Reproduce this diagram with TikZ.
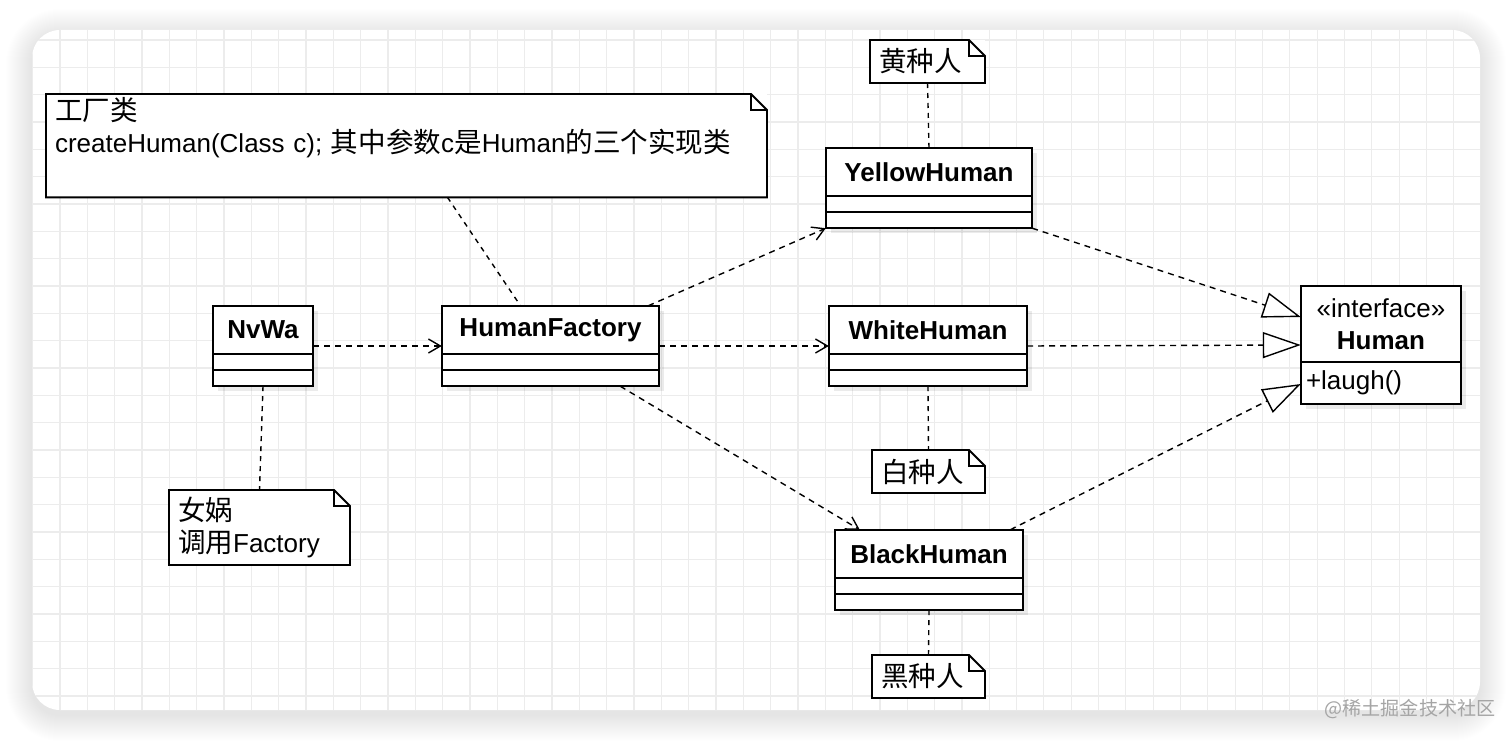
\documentclass[tikz,border=0pt]{standalone}
\usepackage{fontspec}
\setmainfont{Liberation Sans}
\newfontfamily\cjk[Scale=1.06]{Noto Sans CJK SC}
\usepackage{tikz}
\usetikzlibrary{arrows.meta,positioning,fit,shadows}
\usepackage{xcolor}
\definecolor{gridgray}{RGB}{236,236,236}
\definecolor{markgray}{RGB}{165,165,165}
\newcommand{\textsz}{\fontsize{26pt}{32pt}\selectfont}

% class box: name compartment plus two empty ones
\newcommand{\umlclass}[4]{%
  \node[clshead, minimum width=#4, anchor=north west] (#1 head) at #3 {#2};
  \node[clsslot, minimum width=#4, below=0pt of #1 head] (#1 a) {};
  \node[clsslot, minimum width=#4, below=0pt of #1 a] (#1 b) {};
  \node[fit=(#1 head)(#1 b), inner sep=0pt] (#1) {};
}
% note outline with folded corner
\newcommand{\umlnote}[1]{%
  \draw[notebox] (#1.south west) -- (#1.north west) -- ([xshift=-16pt]#1.north east)
    -- ([yshift=-16pt]#1.north east) -- (#1.south east) -- cycle;
  \draw[notebox] ([xshift=-16pt]#1.north east) |- ([yshift=-16pt]#1.north east);
}

\begin{document}
\begin{tikzpicture}[x=1pt, y=-1pt, font=\textsz,
      >={Straight Barb[length=12pt, width=14pt]},
      clshead/.style={draw, fill=white, line width=1.8pt, outer sep=0pt,
                      minimum height=48pt, align=center,
                      font=\textsz\bfseries,
                      drop shadow={shadow xshift=5pt, shadow yshift=-5pt,
                                   opacity=0.08, fill=black}},
      clsslot/.style={draw, fill=white, line width=1.8pt, outer sep=0pt,
                      minimum height=16pt, inner sep=0pt,
                      drop shadow={shadow xshift=5pt, shadow yshift=-5pt,
                                   opacity=0.08, fill=black}},
      note/.style={fill=white, outer sep=0pt, inner xsep=9pt, align=left},
      notebox/.style={line width=1.8pt, line join=miter},
      dep/.style={->, line width=1.4pt, dash pattern=on 6pt off 5pt},
      real/.style={-{Triangle[open, length=38pt, width=26pt, fill=white]},
                   line width=1.4pt, dash pattern=on 6pt off 5pt},
      link/.style={line width=1.4pt, dash pattern=on 5pt off 5pt}
    ]
    \useasboundingbox (0,0) rectangle (1512,741);

    % card with soft shadow and grid
    \fill[white] (0,0) rectangle (1512,741);
    \foreach \s in {1,...,26}{
      \pgfmathsetmacro\rr{28+\s}
      \fill[black, opacity=0.0045, rounded corners=\rr pt]
        (32-\s,35-\s) rectangle (1480+\s,715+\s);
    }
    \fill[white, rounded corners=28pt] (32,30) rectangle (1480,710);
    \begin{scope}
      \clip[rounded corners=28pt] (32,30) rectangle (1480,710);
      \foreach \i in {-1,...,52}
        \draw[gridgray, line width=1.2pt] (60+27.33*\i,30) -- (60+27.33*\i,710);
      \foreach \j in {-1,...,25}
        \draw[gridgray, line width=1.2pt] (32,40+27.33*\j) -- (1480,40+27.33*\j);
    \end{scope}

    % notes
    \node[note, anchor=north west, text width=703pt, minimum height=102pt]
      (factorynote) at (46,94)
      {{\cjk 工厂类}\\createHuman(Class c); {\cjk 其中参数}c{\cjk 是}Human{\cjk 的三个实现类}\\\strut};
    \umlnote{factorynote}
    \node[note, anchor=north west, text width=97pt, minimum height=43pt]
      (yellownote) at (870,40) {{\cjk 黄种人}};
    \umlnote{yellownote}
    \node[note, anchor=north west, text width=95pt, minimum height=43pt]
      (whitenote) at (872,450) {{\cjk 白种人}};
    \umlnote{whitenote}
    \node[note, anchor=north west, text width=95pt, minimum height=43pt]
      (blacknote) at (872,655) {{\cjk 黑种人}};
    \umlnote{blacknote}
    \node[note, anchor=north west, text width=163pt, minimum height=75pt]
      (nvwanote) at (169,490) {{\cjk 女娲}\\{\cjk 调用}Factory};
    \umlnote{nvwanote}

    % classes
    \umlclass{nvwa}{NvWa}{(213,306)}{100pt}
    \umlclass{factory}{HumanFactory}{(442,306)}{217pt}
    \umlclass{yellow}{YellowHuman}{(826,148)}{206pt}
    \umlclass{white}{WhiteHuman}{(829,306)}{198pt}
    \umlclass{black}{BlackHuman}{(835,530)}{188pt}

    \node[clshead, minimum width=160pt, minimum height=76pt, anchor=north west,
          font=\textsz] (human head) at (1301,286)
          {«interface»\\\textbf{Human}};
    \node[clsslot, minimum width=160pt, minimum height=42pt, inner xsep=5pt,
          text width=150pt, align=left, below=0pt of human head] (human op)
          {+laugh()};
    \node[fit=(human head)(human op), inner sep=0pt] (human) {};

    % note links
    \draw[link] ([xshift=41pt]factorynote.south) -- ([xshift=-30pt]factory.north);
    \draw[link] (yellownote.south) -- (yellow.north);
    \draw[link] (white.south) -- (whitenote.north);
    \draw[link] (black.south) -- (blacknote.north);
    \draw[link] (nvwa.south) -- (nvwanote.north);

    % dependencies
    \draw[dep] (nvwa.east) -- (factory.west);
    \draw[dep] ([xshift=-11pt]factory.north east) -- (yellow.south west);
    \draw[dep] (factory.east) -- (white.west);
    \draw[dep] ([xshift=-39pt]factory.south east) -- ([xshift=25pt]black.north west);

    % realizations
    \draw[real] (yellow.south east) -- ([yshift=28pt]human.west);
    \draw[real] (white.east) -- (human.west);
    \draw[real] ([xshift=-13pt]black.north east) -- ([yshift=-39pt]human.west);

    \node[font=\cjk\fontsize{18pt}{22pt}\selectfont, text=markgray] (mark)
      at (1410,709) {@稀土掘金技术社区};
  \end{tikzpicture}
\end{document}
